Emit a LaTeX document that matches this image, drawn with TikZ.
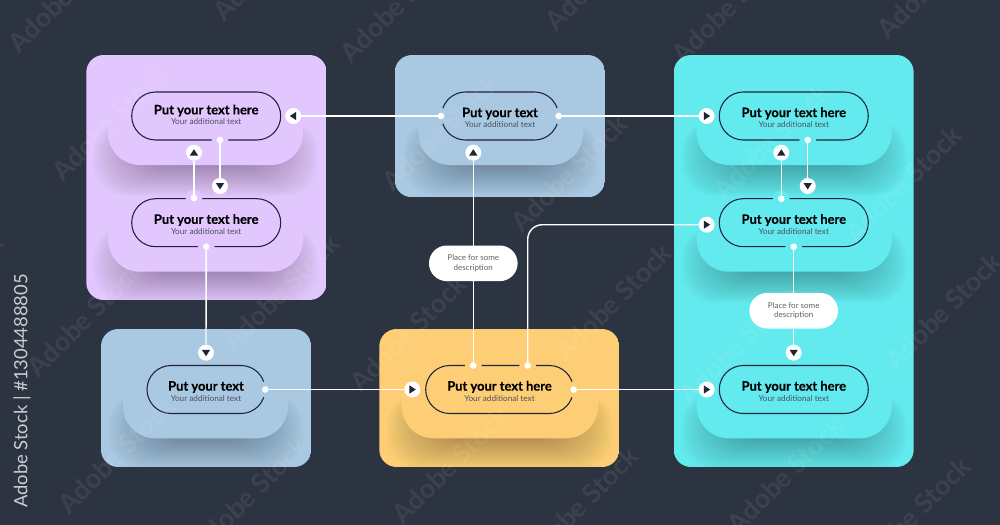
\documentclass[tikz,border=0pt]{standalone}
\usepackage{fontspec}
\setmainfont{Lato}
\newfontfamily\titlefont{Lato}[BoldFeatures={FakeBold=0.25}]
\usetikzlibrary{shapes.misc}

\definecolor{backdrop}{HTML}{2D3441}
\definecolor{ink}{HTML}{20243A}
\definecolor{lilac}{HTML}{E2C6FE}
\definecolor{steel}{HTML}{A9C8E2}
\definecolor{aqua}{HTML}{62EAEE}
\definecolor{amber}{HTML}{FDCE75}

\tikzset{
  pill/.style={rounded rectangle, draw=ink, line width=0.8pt, minimum height=36pt,
    inner sep=0pt, align=center},
  bubble/.style={rounded rectangle, fill=white, minimum width=66.5pt, minimum height=26.7pt,
    inner sep=0pt, align=center, font=\fontsize{6}{7.3}\selectfont, text=black!62},
  link/.style={draw=white, line width=1.05pt},
  dot/.style={circle, fill=white, minimum size=5pt, inner sep=0pt, outer sep=0pt,
    preaction={draw=#1, line width=7pt}},
  btn/.style={circle, fill=white, minimum size=12pt, inner sep=0pt, outer sep=0pt,
    path picture={\fill[ink] ([shift={(#1:2.6pt)}]path picture bounding box.center)
      -- ([shift={(#1+125:3.8pt)}]path picture bounding box.center)
      -- ([shift={(#1-125:3.8pt)}]path picture bounding box.center) -- cycle;}},
  stamp/.style={rotate=45, text=white, opacity=0.07, font=\bfseries\fontsize{20}{20}\selectfont}
}

% x1, x2, bottom of the tab, colour
\newcommand{\cardtab}[4]{
  \foreach \i in {1,...,32}
    \fill[#4!40!black, opacity=0.015, rounded corners=24pt]
      ({#1+36-1.6*\i},{#3-45}) rectangle ({#2-36+1.6*\i},{#3+\i-1});
  \fill[#4, rounded corners=24pt] (#1,#3-75) rectangle (#2,#3);
}
\newcommand{\pilltext}[1]{\rule{0pt}{9.5pt}{\titlefont\bfseries\fontsize{9.7}{12}\selectfont #1}\\[-4.2pt]
  {\fontsize{6.15}{8}\selectfont\color{ink!80}Your additional text}}

\begin{document}
\begin{tikzpicture}[x=0.75pt,y=-0.75pt]
\fill[backdrop] (0,0) rectangle (1000,525);
\useasboundingbox (0,0) rectangle (1000,525);

% Define the corners of the cards
\path (86.3,55) coordinate (lilacA);
\path (326.7,300) coordinate (lilacB);
\path (394.7,55) coordinate (steelA);
\path (605,197.3) coordinate (steelB);
\path (673.7,55) coordinate (aquaA);
\path (913.7,467) coordinate (aquaB);
\path (101,329) coordinate (lowA);
\path (311.3,467) coordinate (lowB);
\path (379.3,329) coordinate (amberA);
\path (619.3,467) coordinate (amberB);

% Draw the cards and their tabs
\begin{scope}
\path[clip, rounded corners=13pt] (lilacA) rectangle (lilacB);
\fill[lilac] (lilacA) rectangle (lilacB);
\cardtab{108}{303}{165}{lilac}
\cardtab{108}{303}{271.7}{lilac}
\end{scope}
\begin{scope}
\path[clip, rounded corners=13pt] (steelA) rectangle (steelB);
\fill[steel] (steelA) rectangle (steelB);
\cardtab{418.3}{583.3}{165}{steel}
\end{scope}
\begin{scope}
\path[clip, rounded corners=13pt] (aquaA) rectangle (aquaB);
\fill[aqua] (aquaA) rectangle (aquaB);
\cardtab{696.7}{891.7}{165}{aqua}
\cardtab{696.7}{891.7}{271.7}{aqua}
\cardtab{696.7}{891.7}{438.3}{aqua}
\end{scope}
\begin{scope}
\path[clip, rounded corners=13pt] (lowA) rectangle (lowB);
\fill[steel] (lowA) rectangle (lowB);
\cardtab{123}{288}{438.3}{steel}
\end{scope}
\begin{scope}
\path[clip, rounded corners=13pt] (amberA) rectangle (amberB);
\fill[amber] (amberA) rectangle (amberB);
\cardtab{401.7}{598}{438.3}{amber}
\end{scope}

% Add the pills
\node[pill, minimum width=111.75pt] (lilacP1) at (206.2,116) {\pilltext{Put your text here}\rule[-4.2pt]{0pt}{0pt}};
\node[pill, minimum width=111.75pt] (lilacP2) at (206.2,222.7) {\pilltext{Put your text here}};
\node[pill, minimum width=87.75pt] (steelP) at (500,116) {\pilltext{Put your text}};
\node[pill, minimum width=111.75pt] (aquaP1) at (793.8,116) {\pilltext{Put your text here}};
\node[pill, minimum width=111.75pt] (aquaP2) at (793.8,222.7) {\pilltext{Put your text here}};
\node[pill, minimum width=111.75pt] (aquaP3) at (793.8,389.5) {\pilltext{Put your text here}};
\node[pill, minimum width=88.5pt] (lowP) at (206,389.5) {\pilltext{Put your text}};
\node[pill, minimum width=110.7pt] (amberP) at (499.5,389.5) {\pilltext{Put your text here}};

% Add the dots on the pills
\node[dot=lilac] (lilacD1) at (220,140) {};
\node[dot=lilac] (lilacD2) at (194,198) {};
\node[dot=lilac] (lilacD3) at (206.2,246.7) {};
\node[dot=steel] (steelD1) at (441,116) {};
\node[dot=steel] (steelD2) at (558.7,116) {};
\node[dot=aqua] (aquaD1) at (807.7,140) {};
\node[dot=aqua] (aquaD2) at (781.3,198.7) {};
\node[dot=aqua] (aquaD3) at (793.7,246.7) {};
\node[dot=steel] (lowD) at (265.3,389.5) {};
\node[dot=amber] (amberD1) at (473.3,365.5) {};
\node[dot=amber] (amberD2) at (527.7,365.5) {};
\node[dot=amber] (amberD3) at (573.7,389.5) {};

% Add the arrow buttons
\node[btn=180] (lilacB1) at (293.3,116) {};
\node[btn=90] (lilacB2) at (194,152.7) {};
\node[btn=-90] (lilacB3) at (220,186) {};
\node[btn=-90] (lilacB4) at (206,352.7) {};
\node[btn=90] (steelB1) at (473.3,152.7) {};
\node[btn=0] (aquaB1) at (706.7,116) {};
\node[btn=90] (aquaB2) at (781.3,152.7) {};
\node[btn=-90] (aquaB3) at (807.7,186) {};
\node[btn=0] (aquaB4) at (706.7,224.7) {};
\node[btn=-90] (aquaB5) at (793.7,352.7) {};
\node[btn=0] (aquaB6) at (706.7,389.5) {};
\node[btn=0] (amberB1) at (412.3,389.5) {};

% Draw the connectors
\draw[link] (steelD1) -- (lilacB1);
\draw[link] (steelD2) -- (aquaB1);
\draw[link] (lilacD1) -- (lilacB3);
\draw[link] (lilacD2) -- (lilacB2);
\draw[link] (lilacD3) -- (lilacB4);
\draw[link] (aquaD1) -- (aquaB3);
\draw[link] (aquaD2) -- (aquaB2);
\draw[link] (aquaD3) -- (aquaB5);
\draw[link] (lowD) -- (amberB1);
\draw[link] (amberD1) -- (steelB1);
\draw[link, rounded corners=11pt] (amberD2) |- (aquaB4);
\draw[link] (amberD3) -- (aquaB6);

% The descriptions sit on top of the connectors
\node[bubble] (descA) at (473.3,263.3) {Place for some\\description};
\node[bubble] (descB) at (793.7,310.7) {Place for some\\description};

% Print the stock marks
\foreach \x/\y [count=\n] in {110/122, 66/-6, 398/4, 271/-38, 440/132, -55/291, 85/318,
    281/292, 408/333, 116/455, 249/495, 450/465, 603/-28, 730/5, 935/-20, 569/173,
    771/141, 903/184, 613/302, 737/345, 943/311, 580/505, 785/475, 912/515}
  \node[stamp] (mark\n) at (\x,\y) {Adobe Stock};
\node[rotate=90, text=white!75!backdrop, font=\fontsize{13.8}{14}\selectfont] (sidemark) at (22,391) {Adobe Stock | \#1304488805};
\end{tikzpicture}
\end{document}
